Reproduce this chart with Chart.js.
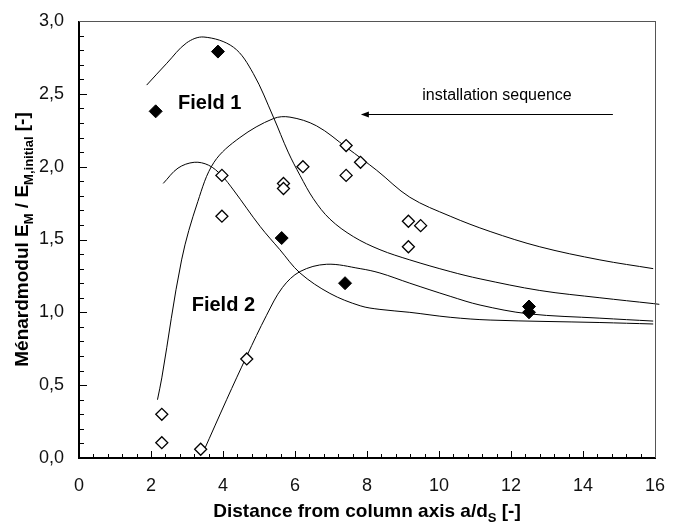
<!DOCTYPE html>
<html>
<head>
<meta charset="utf-8">
<script src="https://cdn.jsdelivr.net/npm/chart.js@4/dist/chart.umd.min.js"></script>
<style>
  html, body { margin: 0; padding: 0; background: #fff; }
  #wrap { position: relative; width: 681px; height: 523px; }
  #wrap canvas { position: absolute; left: 0; top: 0; }
  #overlay { pointer-events: none; }
  #box { position: absolute; box-sizing: border-box; border-top: 1px solid #555; border-right: 1px solid #555; pointer-events: none; }
</style>
</head>
<body>
<div id="wrap">
  <canvas id="chart" width="681" height="523"></canvas>
  <canvas id="overlay" width="681" height="523"></canvas>
  <div id="box"></div>
</div>
<script>
// measured points, a/dS vs. EM / EM,initial
const field1Points = [
  [2.13, 2.38], [3.86, 2.79], [5.63, 1.51], [7.39, 1.20], [12.5, 1.04], [12.5, 1.00]
];
const field2Points = [
  [2.30, 0.30], [2.30, 0.105], [3.38, 0.06], [4.66, 0.68],
  [3.97, 1.94], [3.97, 1.66], [5.68, 1.885], [5.68, 1.85], [6.22, 2.00],
  [7.42, 2.145], [7.82, 2.03], [7.42, 1.94], [9.15, 1.625], [9.49, 1.595], [9.15, 1.45]
];

// fitted trend lines
const curveA = [
  [1.88, 2.56], [2.44, 2.71], [2.99, 2.85], [3.47, 2.89], [4.29, 2.82], [4.84, 2.64],
  [5.40, 2.34], [5.81, 2.10], [6.14, 1.94], [6.51, 1.78], [6.97, 1.64], [7.62, 1.52],
  [8.36, 1.43], [9.19, 1.36], [10.31, 1.28], [11.14, 1.23], [12.8, 1.15], [14.47, 1.10],
  [15.95, 1.06], [16.12, 1.055]
];
const curveB = [
  [2.18, 0.40], [2.30, 0.55], [2.85, 1.36], [3.30, 1.76], [3.75, 2.03], [4.47, 2.20],
  [5.40, 2.33], [5.86, 2.34], [6.60, 2.28], [7.44, 2.13], [8.27, 1.975],
  [9.19, 1.79], [10.31, 1.66], [11.42, 1.555], [12.8, 1.45], [14.47, 1.36], [15.95, 1.30]
];
const curveC = [
  [2.34, 1.885], [2.75, 1.99], [3.20, 2.03], [3.60, 2.01], [3.96, 1.94], [4.29, 1.84],
  [5.03, 1.59], [5.58, 1.43], [6.14, 1.27], [6.97, 1.13], [7.81, 1.045], [8.36, 1.02],
  [9.19, 1.00], [10.31, 0.966], [11.42, 0.947], [14.47, 0.93], [15.95, 0.92]
];
const curveD = [
  [3.45, 0.04], [4.10, 0.40], [4.66, 0.70], [5.21, 0.98], [5.65, 1.17], [6.14, 1.28],
  [6.88, 1.33], [7.81, 1.30], [8.36, 1.27], [9.19, 1.20], [10.31, 1.11], [11.14, 1.05],
  [12.48, 0.99], [14.47, 0.96], [15.95, 0.94]
];

const xTicks = [0, 2, 4, 6, 8, 10, 12, 14, 16];
const yTicks = [0, 0.5, 1, 1.5, 2, 2.5, 3];

const FONT = "'Liberation Sans', Arial, Helvetica, sans-serif";
Chart.defaults.font.family = FONT;

const toXY = arr => arr.map(p => ({ x: p[0], y: p[1] }));

function curve(points, extra) {
  return Object.assign({
    type: 'line',
    data: toXY(points),
    borderColor: '#000',
    borderWidth: 1,
    pointRadius: 0,
    fill: false,
    tension: 0.35
  }, extra || {});
}

// draws text with subscripts: parts = [[text, isSub], ...]
function drawRich(ctx, parts, x, y, size) {
  const subSize = Math.round(size * 0.68);
  let total = 0;
  parts.forEach(p => {
    ctx.font = 'bold ' + (p[1] ? subSize : size) + 'px ' + FONT;
    total += ctx.measureText(p[0]).width;
  });
  let cx = x - total / 2;
  parts.forEach(p => {
    ctx.font = 'bold ' + (p[1] ? subSize : size) + 'px ' + FONT;
    ctx.fillText(p[0], cx, p[1] ? y + size * 0.28 : y);
    cx += ctx.measureText(p[0]).width;
  });
}

// left axis line and y ticks on the chart canvas
function drawLeftAxis(ctx, a, sy) {
  const L = Math.round(a.left), T = Math.round(a.top), B = Math.round(a.bottom);
  ctx.fillStyle = '#000';
  ctx.fillRect(L - 1, T, 2, B - T + 1);
  for (let i = 1; i < 30; i++) {
    const py = Math.round(sy.getPixelForValue(i * 0.1));
    ctx.fillRect(L, py, i % 5 === 0 ? 8 : 5, 1);
  }
}

// bottom axis line and x ticks on the overlay layer
function drawBottomAxis(a, sx) {
  const ctx = document.getElementById('overlay').getContext('2d');
  const L = Math.round(a.left), R = Math.round(a.right), B = Math.round(a.bottom);
  ctx.clearRect(0, 0, 681, 523);
  ctx.fillStyle = '#000';
  ctx.fillRect(L - 1, B - 1, R - L + 2, 2);
  for (let i = 1; i < 40; i++) {
    const px = Math.round(sx.getPixelForValue(i * 0.4));
    const len = i % 5 === 0 ? 7 : 4;
    ctx.fillRect(px, B - len, 1, len);
  }
}

// thin top/right edge as a bordered box
function placeBox(a) {
  const box = document.getElementById('box');
  box.style.left = Math.round(a.left) + 'px';
  box.style.top = Math.round(a.top) + 'px';
  box.style.width = (Math.round(a.right) - Math.round(a.left) + 1) + 'px';
  box.style.height = (Math.round(a.bottom) - Math.round(a.top)) + 'px';
}

// titles, labels and frame
const decorPlugin = {
  id: 'decor',
  afterDraw(chart) {
    const ctx = chart.ctx;
    const a = chart.chartArea;
    const sx = chart.scales.x, sy = chart.scales.y;
    ctx.save();
    drawLeftAxis(ctx, a, sy);

    ctx.fillStyle = '#000';
    ctx.textBaseline = 'alphabetic';
    ctx.textAlign = 'left';
    drawRich(ctx, [['Distance from column axis a/d', false], ['S', true], [' [-]', false]],
      (a.left + a.right) / 2, 517, 19);
    ctx.save();
    ctx.translate(28, (a.top + a.bottom) / 2);
    ctx.rotate(-Math.PI / 2);
    drawRich(ctx, [['Ménardmodul E', false], ['M', true], [' / E', false], ['M,initial', true], [' [-]', false]],
      0, 0, 19);
    ctx.restore();

    ctx.font = 'bold 20px ' + FONT;
    ctx.fillText('Field 1', sx.getPixelForValue(2.75), sy.getPixelForValue(2.395));
    ctx.fillText('Field 2', sx.getPixelForValue(3.13), sy.getPixelForValue(1.01));

    ctx.font = '16px ' + FONT;
    ctx.textAlign = 'center';
    ctx.fillText('installation sequence', sx.getPixelForValue(11.61), sy.getPixelForValue(2.455));

    // arrow pointing towards the column
    const ay = Math.round(sy.getPixelForValue(2.363));
    const x1 = sx.getPixelForValue(14.83), x0 = sx.getPixelForValue(7.83);
    ctx.fillRect(x0 + 6, ay, x1 - x0 - 6, 1);
    ctx.beginPath();
    ctx.moveTo(x0, ay + 0.5);
    ctx.lineTo(x0 + 8, ay - 2.5);
    ctx.lineTo(x0 + 8, ay + 3.5);
    ctx.closePath();
    ctx.fill();
    ctx.restore();

    drawBottomAxis(a, sx);
    placeBox(a);
  }
};

new Chart(document.getElementById('chart'), {
  type: 'scatter',
  data: {
    datasets: [
      {
        label: 'Field 1',
        data: toXY(field1Points),
        pointStyle: 'rectRot',
        pointRadius: 6.5,
        backgroundColor: '#000',
        borderColor: '#000',
        borderWidth: 1
      },
      {
        label: 'Field 2',
        data: toXY(field2Points),
        pointStyle: 'rectRot',
        pointRadius: 6,
        backgroundColor: '#fff',
        borderColor: '#000',
        borderWidth: 1.3
      },
      curve(curveA, { clip: { left: 0, top: 0, right: 8, bottom: 0 } }),
      curve(curveB),
      curve(curveC),
      curve(curveD)
    ]
  },
  options: {
    responsive: false,
    animation: false,
    events: [],
    layout: { padding: { top: 21, right: 26, left: 0, bottom: 0 } },
    plugins: {
      legend: { display: false },
      tooltip: { enabled: false }
    },
    scales: {
      x: {
        type: 'linear',
        min: 0,
        max: 16,
        afterBuildTicks: s => { s.ticks = xTicks.map(v => ({ value: v })); },
        afterFit: s => { s.height = 65; s.paddingLeft = 0; s.paddingRight = 0; },
        grid: { display: false, drawTicks: false },
        border: { display: false },
        ticks: {
          padding: 17,
          color: '#111',
          font: { size: 18 },
          callback: v => String(v)
        }
      },
      y: {
        type: 'linear',
        min: 0,
        max: 3,
        afterBuildTicks: s => { s.ticks = yTicks.map(v => ({ value: v })); },
        afterFit: s => { s.width = 79; s.paddingTop = 0; s.paddingBottom = 0; },
        grid: { display: false, drawTicks: false },
        border: { display: false },
        ticks: {
          padding: 15,
          color: '#111',
          font: { size: 18 },
          callback: v => v.toFixed(1).replace('.', ',')
        }
      }
    }
  },
  plugins: [decorPlugin]
});
</script>
</body>
</html>
